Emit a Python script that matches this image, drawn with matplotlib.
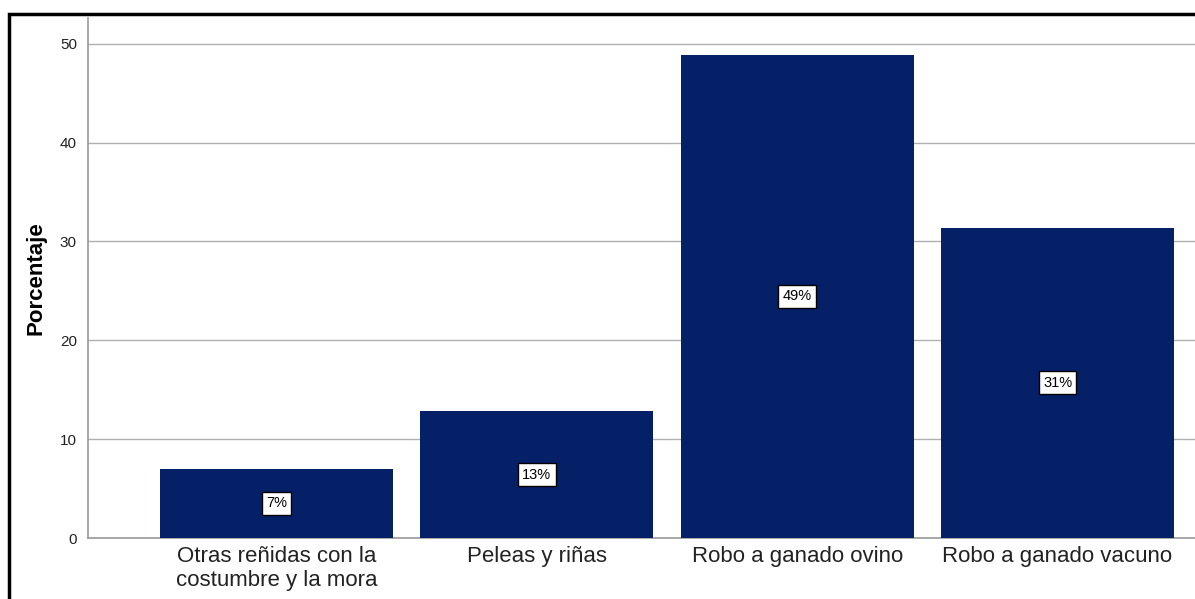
import matplotlib.pyplot as plt
from matplotlib.patches import Rectangle

categorias = ["Otras reñidas con la\ncostumbre y la mora", "Peleas y riñas",
              "Robo a ganado ovino", "Robo a ganado vacuno"]
porcentajes = [7.0, 12.8, 48.9, 31.4]
etiquetas = ["7%", "13%", "49%", "31%"]

plt.rcParams['font.family'] = ['Liberation Sans', 'DejaVu Sans']

fig = plt.figure(figsize=(11.95, 5.99), dpi=100)
W, H = 1195, 599
ax = fig.add_axes([88 / W, (H - 538) / H, 1 - 88 / W, 520 / H])

x = list(range(len(categorias)))
ax.bar(x, porcentajes, width=0.895, color="#062068", zorder=3)

for xi, v, t in zip(x, porcentajes, etiquetas):
    ax.text(xi, v / 2, t, ha="center", va="center", fontsize=10.5, zorder=4,
            bbox=dict(boxstyle="square,pad=0.3", fc="white", ec="black", lw=1))

ax.set_xlim(-0.724, 3.528)
ax.set_ylim(0, 52.6)
ax.set_yticks([0, 10, 20, 30, 40, 50])
ax.yaxis.grid(True, color="#b0b0b0", lw=1, zorder=0)
ax.set_xticks(x)
ax.set_xticklabels(categorias, fontsize=16, color="#222222", linespacing=1.15)
ax.tick_params(axis="x", length=0, pad=6)
ax.tick_params(axis="y", length=0, labelsize=11, labelcolor="#222222", pad=8)

for s in ["top", "right"]:
    ax.spines[s].set_visible(False)
for s in ["left", "bottom"]:
    ax.spines[s].set_color("#999999")
    ax.spines[s].set_linewidth(1.2)

ax.set_ylabel("Porcentaje", fontsize=16, fontweight="bold", labelpad=10)

# marco negro exterior (recortado a la derecha y abajo)
fig.patches.append(Rectangle((9 / W, -0.1), 1.2, 1 - 14 / H + 0.1,
                             transform=fig.transFigure, fill=False,
                             ec="black", lw=2.5, zorder=10))

fig.savefig("out.png", dpi=100)
